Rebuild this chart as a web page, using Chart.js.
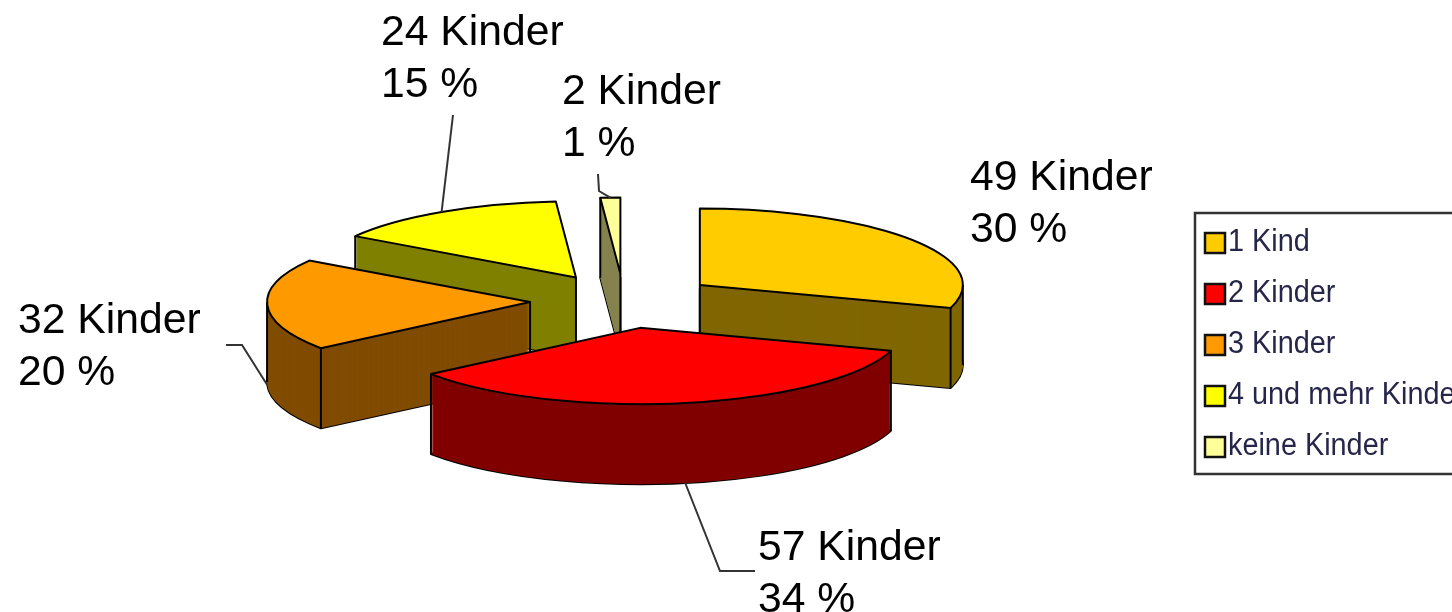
<!DOCTYPE html>
<html>
<head>
<meta charset="utf-8">
<title>Kinder</title>
<script src="https://cdn.jsdelivr.net/npm/chart.js@4"></script>
<style>
  html, body { margin: 0; padding: 0; background: #fff; overflow: hidden; }
  #wrap { width: 1452px; height: 612px; }
</style>
</head>
<body>
<div id="wrap"><canvas id="chart"></canvas></div>
<script>
// Data
const categories = ['1 Kind', '2 Kinder', '3 Kinder', '4 und mehr Kinder', 'keine Kinder']
const childCounts = [49, 57, 32, 24, 2]
const percentLabels = [30, 34, 20, 15, 1]

const topColors = ['#FFCC00', '#FF0000', '#FF9900', '#FFFF00', '#FFFF99']
const sideColors = ['#806600', '#800000', '#804C00', '#808000', '#85834F']

// Fake 3D look
const tilt = 0.29
const depth = 80
const explode = 94
const drawOrder = [4, 3, 2, 0, 1] // back to front

// Label text position (first line), and the bend points of each leader line
const labelX = [970, 758, 18, 381, 562]
const labelY = [190, 560, 333, 45, 104]
const leaderBends = [
  [],
  [[720, 571], [755, 571]],
  [[242, 345], [226, 345]],
  [[453, 115]],
  [[599, 191], [598, 174]]
]
const leaderAtBottom = [false, true, true, false, false]

const midAngle = arc => (arc.startAngle + arc.endAngle) / 2

function apex(arc, lift) {
  const mid = midAngle(arc)
  return {
    x: arc.x + Math.cos(mid) * explode,
    y: arc.y + Math.sin(mid) * explode * tilt + lift
  }
}

function rimPoint(arc, angle, lift) {
  const c = apex(arc, lift)
  return {
    x: c.x + Math.cos(angle) * arc.outerRadius,
    y: c.y + Math.sin(angle) * arc.outerRadius * tilt
  }
}

// Draw the arc element squashed and moved away from the pie center
function drawSquashed(ctx, arc, lift, color) {
  const mid = midAngle(arc)
  const saved = arc.options
  arc.options = {
    backgroundColor: color,
    borderColor: color,
    borderWidth: 0,
    borderAlign: 'center',
    borderRadius: 0,
    borderJoinStyle: 'round',
    offset: 0,
    spacing: 0,
    circular: true
  }
  ctx.save()
  ctx.translate(arc.x, arc.y + lift)
  ctx.scale(1, tilt)
  ctx.translate(Math.cos(mid) * explode, Math.sin(mid) * explode)
  ctx.translate(-arc.x, -arc.y)
  arc.draw(ctx)
  ctx.restore()
  arc.options = saved
}

function slicePath(ctx, arc, lift) {
  const c = apex(arc, lift)
  ctx.beginPath()
  ctx.moveTo(c.x, c.y)
  ctx.ellipse(c.x, c.y, arc.outerRadius, arc.outerRadius * tilt, 0, arc.startAngle, arc.endAngle)
  ctx.closePath()
}

// Only edges that come out from under the top face can be seen
function verticalEdge(ctx, arc, p) {
  slicePath(ctx, arc, 0)
  if (ctx.isPointInPath(p.x, p.y + 4)) return
  ctx.beginPath()
  ctx.moveTo(p.x, p.y)
  ctx.lineTo(p.x, p.y + depth)
  ctx.stroke()
}

const pie3d = {
  id: 'pie3d',
  beforeDatasetsDraw(chart) {
    const ctx = chart.ctx
    const arcs = chart.getDatasetMeta(0).data
    ctx.save()
    ctx.strokeStyle = '#000'
    ctx.lineWidth = 2
    ctx.lineJoin = 'round'

    drawOrder.forEach(i => {
      const arc = arcs[i]
      slicePath(ctx, arc, depth)
      ctx.stroke()
      for (let d = depth; d > 0; d--) drawSquashed(ctx, arc, d, sideColors[i])

      // corners of the wall
      verticalEdge(ctx, arc, apex(arc, 0))
      verticalEdge(ctx, arc, rimPoint(arc, arc.startAngle, 0))
      verticalEdge(ctx, arc, rimPoint(arc, arc.endAngle, 0))
      // left and right ends of the ellipse
      ;[0, Math.PI].forEach(a => {
        if (a > arc.startAngle && a < arc.endAngle) verticalEdge(ctx, arc, rimPoint(arc, a, 0))
      })

      drawSquashed(ctx, arc, 0, topColors[i])
      slicePath(ctx, arc, 0)
      ctx.stroke()
    })
    ctx.restore()
    return false
  },
  afterDraw(chart) {
    const ctx = chart.ctx
    const arcs = chart.getDatasetMeta(0).data
    ctx.save()

    // leader lines, starting on the rim of each slice
    ctx.strokeStyle = '#333'
    ctx.lineWidth = 2
    arcs.forEach((arc, i) => {
      if (!leaderBends[i].length) return
      const start = rimPoint(arc, midAngle(arc), leaderAtBottom[i] ? depth : 0)
      ctx.beginPath()
      ctx.moveTo(start.x, start.y)
      leaderBends[i].forEach(p => ctx.lineTo(p[0], p[1]))
      ctx.stroke()
    })

    // value labels
    ctx.fillStyle = '#000'
    ctx.font = '42.7px "Liberation Sans", Arial, sans-serif'
    ctx.textBaseline = 'alphabetic'
    childCounts.forEach((count, i) => {
      ctx.fillText(count + ' Kinder', labelX[i], labelY[i])
      ctx.fillText(percentLabels[i] + ' %', labelX[i], labelY[i] + 52)
    })

    // legend box, runs off the right edge like in the original
    ctx.fillStyle = '#fff'
    ctx.strokeStyle = '#333'
    ctx.lineWidth = 2.5
    ctx.beginPath()
    ctx.rect(1195, 213, 280, 261)
    ctx.fill()
    ctx.stroke()
    ctx.font = '31px "Liberation Sans", Arial, sans-serif'
    categories.forEach((name, i) => {
      const rowY = 233 + i * 51
      ctx.fillStyle = topColors[i]
      ctx.strokeStyle = '#111'
      ctx.fillRect(1205, rowY, 20, 20)
      ctx.strokeRect(1205, rowY, 20, 20)
      ctx.fillStyle = '#26264a'
      ctx.filter = 'blur(0.6px)'
      ctx.save()
      ctx.translate(1228, rowY + 18)
      ctx.scale(0.93, 1)
      ctx.fillText(name, 0, 0)
      ctx.restore()
      ctx.filter = 'none'
    })
    ctx.restore()
  }
}

new Chart(document.getElementById('chart'), {
  type: 'pie',
  data: {
    labels: categories,
    datasets: [{
      data: childCounts,
      backgroundColor: topColors,
      borderWidth: 0
    }]
  },
  options: {
    responsive: true,
    maintainAspectRatio: false,
    animation: false,
    radius: 263,
    layout: { padding: { right: 204, bottom: 10 } },
    plugins: {
      legend: { display: false },
      tooltip: { enabled: false }
    }
  },
  plugins: [pie3d]
})
</script>
</body>
</html>
